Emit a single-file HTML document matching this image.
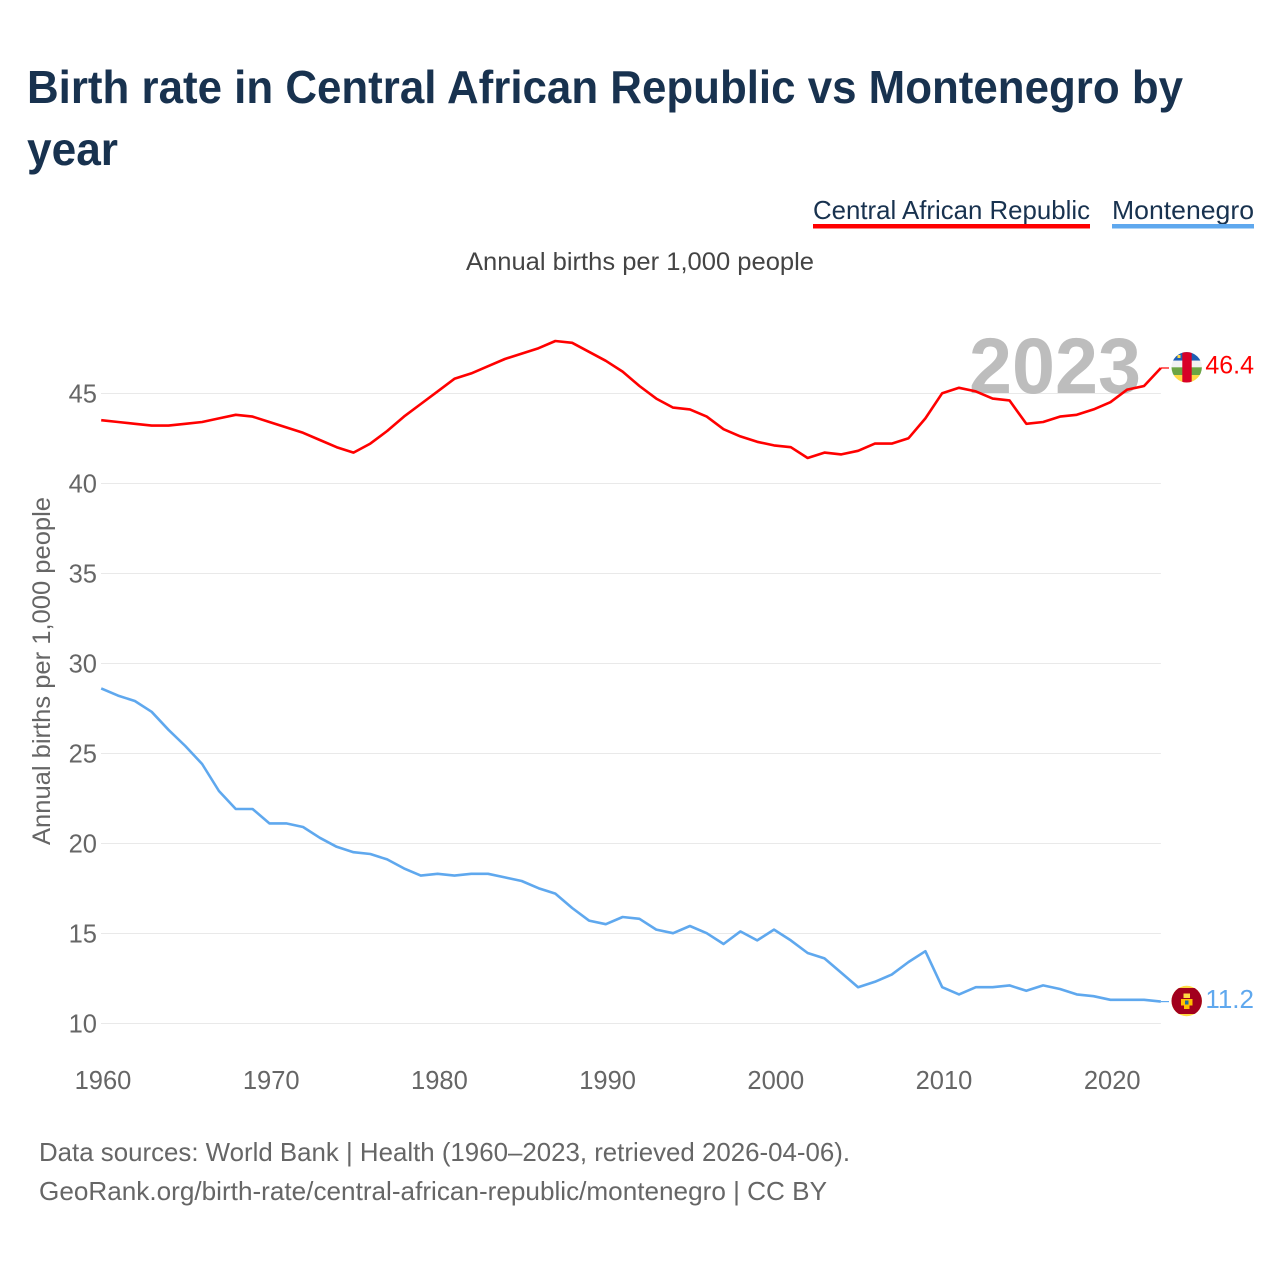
<!DOCTYPE html>
<html lang="en">
<head>
<meta charset="utf-8">
<title>Birth rate in Central African Republic vs Montenegro by year</title>
<style>
html,body{margin:0;padding:0;background:#fff;width:1280px;height:1280px;overflow:hidden}
svg{display:block}
text{font-family:"Liberation Sans",sans-serif}
</style>
</head>
<body>
<svg id="chart" xmlns="http://www.w3.org/2000/svg" width="1280" height="1280" viewBox="0 0 1280 1280">
  <defs>
    <clipPath id="car-clip"><circle cx="1186.7" cy="367.3" r="15.2"></circle></clipPath>
    <clipPath id="mne-clip"><circle cx="1186.7" cy="1001" r="15.2"></circle></clipPath>
  </defs>
  <rect width="1280" height="1280" fill="#fff"></rect>
  <text x="27" y="103" font-size="46" font-weight="700" fill="#18324f" textLength="1156" lengthAdjust="spacingAndGlyphs">Birth rate in Central African Republic vs Montenegro by</text>
  <text x="27" y="165" font-size="46" font-weight="700" fill="#18324f" textLength="91" lengthAdjust="spacingAndGlyphs">year</text>
  <g>
    <text x="813" y="219" font-size="26" fill="#18324f" textLength="277" lengthAdjust="spacingAndGlyphs">Central African Republic</text>
    <rect x="813" y="224" width="277" height="4.5" fill="#ff0000"></rect>
  </g>
  <g>
    <text x="1112" y="219" font-size="26" fill="#18324f" textLength="142" lengthAdjust="spacingAndGlyphs">Montenegro</text>
    <rect x="1112" y="224" width="142" height="4.5" fill="#5fa8ee"></rect>
  </g>
  <text x="466" y="270" font-size="25" fill="#444" textLength="348" lengthAdjust="spacingAndGlyphs">Annual births per 1,000 people</text>
  <text transform="translate(50,845) rotate(-90)" font-size="25" fill="#666" textLength="348" lengthAdjust="spacingAndGlyphs">Annual births per 1,000 people</text>
  <g id="grid"></g>
  <g id="y-ticks"></g>
  <g id="x-ticks"></g>
  <text id="year-label" x="969" y="393" font-size="79" font-weight="700" fill="#bdbdbd" textLength="172" lengthAdjust="spacingAndGlyphs">2023</text>
  <g id="series"></g>
  <g clip-path="url(#car-clip)">
    <rect x="1171" y="352" width="32" height="8.7" fill="#1f5fb4"></rect>
    <rect x="1171" y="360.7" width="32" height="6.6" fill="#f2f2f2"></rect>
    <rect x="1171" y="367.3" width="32" height="7.7" fill="#6da544"></rect>
    <rect x="1171" y="375" width="32" height="8" fill="#ffda44"></rect>
    <rect x="1182.3" y="352" width="9.4" height="31" fill="#d80027"></rect>
    <rect x="1177.5" y="355" width="3" height="3" fill="#ffda44"></rect>
  </g>
  <g clip-path="url(#mne-clip)">
    <rect x="1171" y="985" width="32" height="32" fill="#ffda44"></rect>
    <rect x="1171" y="988" width="32" height="26" fill="#a2001d"></rect>
    <rect x="1183.5" y="993.5" width="6.5" height="4.5" fill="#ffda44"></rect>
    <rect x="1181" y="999" width="11.5" height="6.5" fill="#ffc000"></rect>
    <rect x="1185" y="1000.5" width="3.5" height="4" fill="#1f6f9e"></rect>
    <rect x="1184" y="1005.5" width="5.5" height="3.5" fill="#ffc000"></rect>
  </g>
  <g id="end-labels"></g>
  <text x="39" y="1161" font-size="26" fill="#666" textLength="811" lengthAdjust="spacingAndGlyphs">Data sources: World Bank | Health (1960–2023, retrieved 2026-04-06).</text>
  <text x="39" y="1200" font-size="26" fill="#666" textLength="788" lengthAdjust="spacingAndGlyphs">GeoRank.org/birth-rate/central-african-republic/montenegro | CC BY</text>
</svg>
<script>
const years = [1960,1961,1962,1963,1964,1965,1966,1967,1968,1969,1970,1971,1972,1973,1974,1975,1976,1977,1978,1979,1980,1981,1982,1983,1984,1985,1986,1987,1988,1989,1990,1991,1992,1993,1994,1995,1996,1997,1998,1999,2000,2001,2002,2003,2004,2005,2006,2007,2008,2009,2010,2011,2012,2013,2014,2015,2016,2017,2018,2019,2020,2021,2022,2023];
const carValues = [43.5,43.4,43.3,43.2,43.2,43.3,43.4,43.6,43.8,43.7,43.4,43.1,42.8,42.4,42.0,41.7,42.2,42.9,43.7,44.4,45.1,45.8,46.1,46.5,46.9,47.2,47.5,47.9,47.8,47.3,46.8,46.2,45.4,44.7,44.2,44.1,43.7,43.0,42.6,42.3,42.1,42.0,41.4,41.7,41.6,41.8,42.2,42.2,42.5,43.6,45.0,45.3,45.1,44.7,44.6,43.3,43.4,43.7,43.8,44.1,44.5,45.2,45.4,46.4];
const mneValues = [28.6,28.2,27.9,27.3,26.3,25.4,24.4,22.9,21.9,21.9,21.1,21.1,20.9,20.3,19.8,19.5,19.4,19.1,18.6,18.2,18.3,18.2,18.3,18.3,18.1,17.9,17.5,17.2,16.4,15.7,15.5,15.9,15.8,15.2,15.0,15.4,15.0,14.4,15.1,14.6,15.2,14.6,13.9,13.6,12.8,12.0,12.3,12.7,13.4,14.0,12.0,11.6,12.0,12.0,12.1,11.8,12.1,11.9,11.6,11.5,11.3,11.3,11.3,11.2];
const yTickValues = [10,15,20,25,30,35,40,45];
const xTickValues = [1960,1970,1980,1990,2000,2010,2020];

const NS = 'http://www.w3.org/2000/svg';
const xScale = function (yr) { return 101.2 + (yr - 1960) * 16.82; };
const yScale = function (v) { return 1023.5 - (v - 10) * 18; };
const plotRight = xScale(2023);

function make(tag, parent, attrs, txt) {
  const el = document.createElementNS(NS, tag);
  Object.keys(attrs).forEach(function (k) { el.setAttribute(k, attrs[k]); });
  if (txt !== undefined) el.textContent = txt;
  parent.appendChild(el);
  return el;
}

const grid = document.getElementById('grid');
const yTicks = document.getElementById('y-ticks');
yTickValues.forEach(function (v) {
  const line = make('line', grid, {x1: 101, x2: plotRight, y1: yScale(v), y2: yScale(v), stroke: '#e9e9e9', 'stroke-width': 1});
  
  
  const label = make('text', yTicks, {x: 97, y: yScale(v) + 9, 'text-anchor': 'end', 'font-size': 25.5, fill: '#666'}, String(v));
  
  
});

const xTicks = document.getElementById('x-ticks');
xTickValues.forEach(function (yr) {
  const label = make('text', xTicks, {x: xScale(yr) + 1.8, y: 1089, 'text-anchor': 'middle', 'font-size': 25.5, fill: '#666'}, String(yr));
  
  
});

document.getElementById('year-label').textContent = String(years[years.length - 1]);

const seriesGroup = document.getElementById('series');
function drawSeries(values, color, name) {
  const pts = values.map(function (v, i) { return xScale(years[i]).toFixed(2) + ',' + (yScale(v) - 0.3).toFixed(2); }).join(' ');
  const line = make('polyline', seriesGroup, {points: pts, fill: 'none', stroke: color, 'stroke-width': 2.6, 'stroke-linejoin': 'round'});
  
  
  const lastY = yScale(values[values.length - 1]) - 0.3;
  const conn = make('line', seriesGroup, {x1: plotRight, x2: 1169, y1: lastY, y2: lastY, stroke: color, 'stroke-width': 1.2});
  
  
}
drawSeries(carValues, '#ff0000', 'line-central-african-republic');
drawSeries(mneValues, '#5fa8ee', 'line-montenegro');

const endLabels = document.getElementById('end-labels');
const carEnd = make('text', endLabels, {x: 1254, y: yScale(carValues[carValues.length - 1]) + 5, 'text-anchor': 'end', 'font-size': 25, fill: '#ff0000'}, carValues[carValues.length - 1].toFixed(1));


const mneEnd = make('text', endLabels, {x: 1254, y: yScale(mneValues[mneValues.length - 1]) + 6, 'text-anchor': 'end', 'font-size': 26, fill: '#5fa8ee'}, mneValues[mneValues.length - 1].toFixed(1));


</script>
</body>
</html>
